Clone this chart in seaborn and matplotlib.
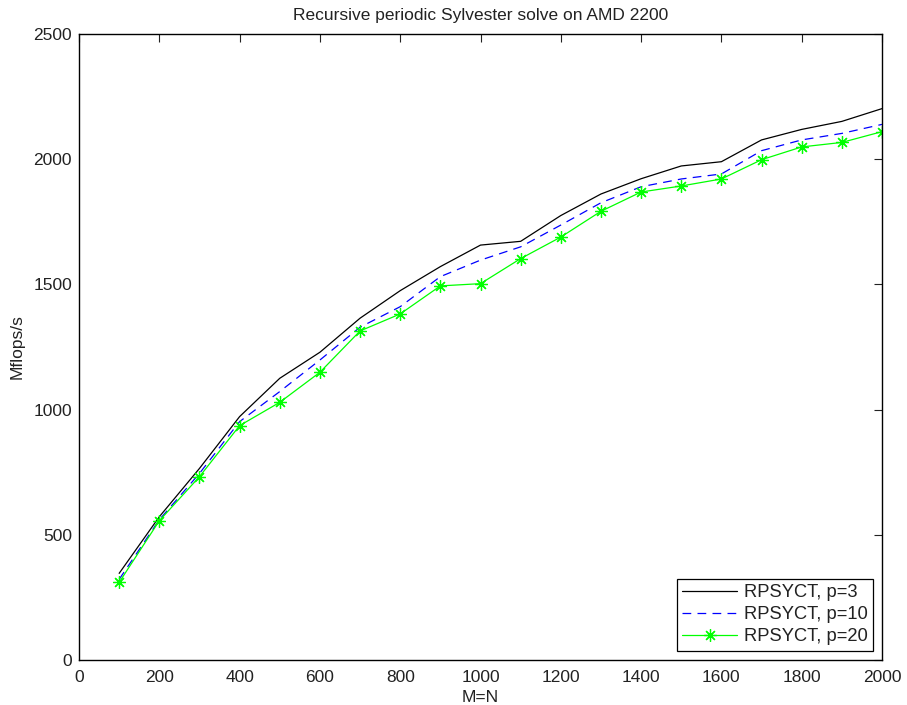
import matplotlib
matplotlib.use("Agg")
import matplotlib.pyplot as plt
import seaborn as sns
import pandas as pd

sizes = [100, 200, 300, 400, 500, 600, 700, 800, 900, 1000,
         1100, 1200, 1300, 1400, 1500, 1600, 1700, 1800, 1900, 2000]
p3 = [346, 572, 765, 972, 1125, 1229, 1365, 1475, 1571, 1657,
      1672, 1775, 1861, 1922, 1973, 1990, 2077, 2119, 2151, 2202]
p10 = [322, 560, 745, 952, 1072, 1198, 1329, 1411, 1531, 1597,
       1650, 1737, 1826, 1890, 1921, 1941, 2034, 2077, 2103, 2139]
p20 = [310, 556, 732, 936, 1029, 1149, 1314, 1382, 1494, 1503,
       1603, 1689, 1792, 1869, 1893, 1921, 1998, 2049, 2067, 2110]
labels = ["RPSYCT, p=3", "RPSYCT, p=10", "RPSYCT, p=20"]
xticks = [0, 200, 400, 600, 800, 1000, 1200, 1400, 1600, 1800, 2000]
yticks = [0, 500, 1000, 1500, 2000, 2500]

sns.set_style("white")
plt.rcParams['font.family'] = ['Liberation Sans', 'DejaVu Sans']

fig = plt.figure(figsize=(9.07, 7.05), dpi=100)
ax = fig.add_axes([79/907, 45/705, 803/907, 626/705])

df3 = pd.DataFrame({"x": sizes, "y": p3})
df10 = pd.DataFrame({"x": sizes, "y": p10})
df20 = pd.DataFrame({"x": sizes, "y": p20})

sns.lineplot(data=df3, x="x", y="y", ax=ax, color="black", linewidth=0.9,
             label=labels[0])
sns.lineplot(data=df10, x="x", y="y", ax=ax, color="#0000ff", linewidth=0.9,
             dashes=False, label=labels[1])
ax.lines[-1].set_dashes([7, 5])
sns.lineplot(data=df20, x="x", y="y", ax=ax, color="#00ff00", linewidth=0.9,
             marker=(8, 2, 0), markersize=9, markeredgewidth=0.9,
             markeredgecolor="#00ff00", label=labels[2])

ax.set_xlim(0, 2000)
ax.set_ylim(0, 2500)
ax.set_xticks(xticks)
ax.set_yticks(yticks)
ax.tick_params(direction="in", length=6, width=0.8, top=True, right=True,
               labelsize=12.5, colors="#222222")
ax.tick_params(axis="x", pad=7)
ax.tick_params(axis="y", pad=5)
for s in ax.spines.values():
    s.set_visible(True)
    s.set_color("black")
    s.set_linewidth(1.0)
ax.set_xlabel("M=N", fontsize=12.5, labelpad=4, color="#222222")
ax.set_ylabel("Mflops/s", fontsize=12.5, labelpad=6, color="#222222")
ax.set_title("Recursive periodic Sylvester solve on AMD 2200", fontsize=12.5,
             pad=10, color="#222222")

leg = ax.legend(loc="lower right", fontsize=13.2, frameon=True, fancybox=False,
                borderaxespad=0.5, handlelength=3.0, labelspacing=0.28,
                borderpad=0.3, handletextpad=0.35)
leg.get_frame().set_edgecolor("black")
leg.get_frame().set_linewidth(0.9)
leg.get_frame().set_alpha(1)
for t in leg.get_texts():
    t.set_color("#222222")

fig.savefig("out.png", dpi=100)
